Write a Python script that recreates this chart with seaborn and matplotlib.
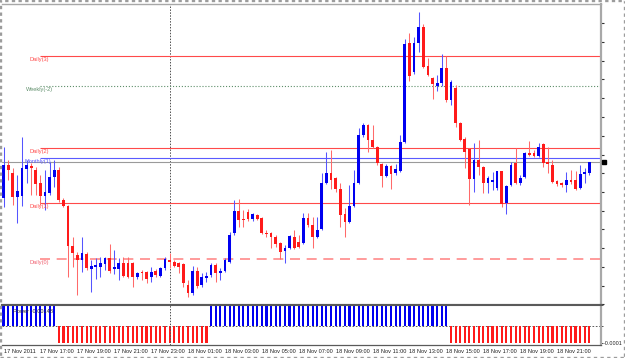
import numpy as np
import pandas as pd
import matplotlib
matplotlib.use("Agg")
import matplotlib.pyplot as plt
import seaborn as sns
from matplotlib.patches import Rectangle

# ---- data (screen rows, top = 0; converted to price below) ----
open_px = [198, 165, 173, 197, 196, 169, 166, 170, 183, 196, 193, 177, 170, 200, 206, 246,
           255, 260, 254, 269, 267, 267, 264, 258, 269, 269, 263, 263, 263, 277, 272, 272,
           277, 271, 276, 268, 260, 262, 263, 264, 285, 293, 271, 285, 278, 275, 265, 273,
           271, 262, 233, 211, 219, 212, 219, 215, 218, 233, 233, 237, 243, 251, 248, 237,
           242, 243, 218, 225, 237, 229, 183, 173, 178, 189, 214, 222, 206, 183, 135, 125,
           140, 147, 164, 176, 166, 173, 171, 142, 43, 72, 43, 27, 66, 78, 86, 83,
           68, 100, 88, 123, 139, 149, 179, 160, 167, 183, 182, 188, 171, 203, 185, 163,
           183, 177, 153, 153, 156, 144, 162, 165, 181, 183, 185, 180, 180, 188, 174, 173]
high_px = [147, 160, 168, 175, 137, 160, 163, 167, 175, 170, 162, 160, 167, 198, 205, 237,
           252, 237, 252, 260, 258, 257, 257, 244, 250, 258, 257, 257, 262, 272, 270, 271,
           267, 269, 267, 257, 253, 260, 262, 263, 280, 266, 267, 273, 272, 263, 263, 268,
           258, 232, 200, 199, 210, 209, 213, 214, 217, 230, 232, 235, 242, 245, 235, 230,
           235, 213, 213, 217, 217, 173, 152, 150, 177, 183, 208, 185, 170, 128, 123, 124,
           125, 146, 163, 164, 165, 164, 135, 39, 33, 37, 12, 24, 58, 77, 75, 54,
           56, 80, 85, 122, 137, 148, 143, 140, 166, 176, 172, 171, 171, 185, 162, 148,
           175, 152, 141, 150, 143, 143, 147, 160, 180, 182, 172, 170, 171, 165, 168, 162]
low_px = [207, 180, 205, 223, 206, 183, 195, 195, 205, 210, 195, 187, 202, 207, 277, 267,
          295, 272, 270, 292, 279, 277, 270, 273, 274, 280, 277, 278, 287, 279, 280, 283,
          282, 277, 277, 270, 268, 267, 273, 287, 297, 295, 288, 287, 282, 277, 282, 280,
          272, 263, 235, 227, 227, 221, 221, 220, 234, 237, 248, 247, 259, 263, 249, 249,
          248, 244, 227, 248, 238, 230, 184, 189, 192, 227, 237, 223, 207, 184, 137, 152,
          148, 165, 187, 177, 189, 175, 172, 143, 81, 74, 52, 68, 76, 99, 91, 86,
          102, 105, 127, 141, 168, 205, 192, 175, 193, 193, 190, 190, 207, 214, 186, 184,
          185, 178, 156, 157, 157, 167, 173, 183, 186, 187, 192, 184, 190, 189, 183, 175]
close_px = [165, 170, 197, 191, 168, 165, 168, 184, 196, 192, 177, 170, 200, 206, 246, 253,
            260, 253, 268, 266, 265, 263, 258, 271, 267, 263, 276, 277, 277, 273, 273, 279,
            272, 275, 268, 259, 262, 266, 267, 283, 293, 271, 286, 277, 276, 265, 273, 271,
            260, 235, 211, 220, 220, 219, 214, 219, 233, 234, 237, 244, 252, 248, 236, 248,
            247, 218, 225, 237, 230, 183, 173, 180, 189, 215, 222, 206, 183, 135, 125, 140,
            147, 163, 176, 166, 174, 169, 142, 44, 76, 43, 27, 67, 75, 84, 83, 68,
            100, 82, 123, 140, 152, 179, 160, 167, 183, 178, 180, 171, 204, 186, 165, 183,
            178, 153, 155, 156, 147, 163, 164, 182, 184, 185, 180, 182, 189, 174, 172, 162]

# Power indicator (x1e-5): positive = blue, negative = red
power_e5 = [12, 12, 12, 12, 12, 12, 12, 12, 12, 12, 12, 12,
            -10, -10, -10, -10, -10, -10, -10, -10, -10, -10, -10, -10, -10, -10, -10, -10, -10,
            -10, -10, -10, -10, -10, -10, -10, -10, -10, -10, -10, -10, -10, -10, -10, -10,
            12, 12, 12, 12, 12, 12, 12, 12, 12, 12, 12, 12, 12, 12, 12, 12, 12, 12, 12, 12,
            12, 12, 12, 12, 12, 12, 12, 12, 12, 12, 12, 12, 12, 12, 12, 12, 12, 12, 12, 12,
            12, 12, 12, 12, 12, 12, 12, 12, 12, 12, 12, 12,
            -10, -10, -10, -10, -10, -10, -10, -10, -10, -10, -10, -10, -10, -10, -10, -10,
            -10, -10, -10, -10, -10, -10, -10, -10, -10, -10, -10, -10, -10, -10, -10]

level_names = ["Daily(3)", "Weekly(-2)", "Daily(2)", "Monthly(1)", "Daily(1)", "Daily(0)"]
level_px = [56, 86, 148, 158, 203, 259]
level_colors = ["#FF4A4A", "#5E8E6A", "#FF4A4A", "#5A5AFF", "#FF4A4A", "#FF8A8A"]
level_styles = ["-", ":", "-", "-", "-", (0, (6, 4))]
bid_px = 162

tick_index = [0, 8, 16, 24, 32, 40, 48, 56, 64, 72, 80, 88, 96, 104, 112, 120]
tick_labels = ["17 Nov 2011", "17 Nov 17:00", "17 Nov 19:00", "17 Nov 21:00", "17 Nov 23:00",
               "18 Nov 01:00", "18 Nov 03:00", "18 Nov 05:00", "18 Nov 07:00", "18 Nov 09:00",
               "18 Nov 11:00", "18 Nov 13:00", "18 Nov 15:00", "18 Nov 17:00", "18 Nov 19:00",
               "18 Nov 21:00"]
day_break_index = 36
grid_px = [23, 42, 61, 79, 98, 117, 136, 155, 173, 192, 211, 229, 248, 267, 286, 304]

BASE = 1.3560


def to_price(v):
    return BASE - np.asarray(v, dtype=float) / 10000.0


o = to_price(open_px)
h = to_price(high_px)
l = to_price(low_px)
c = to_price(close_px)
n = len(o)
x = np.arange(n)

sns.set_style("white")
plt.rcParams["font.family"] = ["Liberation Sans", "DejaVu Sans"]
FS = 4.1

W, H = 625, 358
fig = plt.figure(figsize=(W / 100, H / 100), dpi=100)
fig.patch.set_facecolor("white")

ax = fig.add_axes([2 / W, (H - 305) / H, 599 / W, 301 / H])
ax2 = fig.add_axes([2 / W, (H - 345) / H, 599 / W, 40 / H])

xl = (-0.33, 599 / 4.613 - 0.33)

# ---- candles ----
up = c > o
body_col = np.where(up, "#0000F0", "#FF1A1A")
wick_col = np.where(up, "#5555FF", "#FF6A6A")
ax.vlines(x, l, h, colors=wick_col, lw=0.75, zorder=3)
body_h = np.maximum(np.abs(c - o), 0.00009)
ax.bar(x, body_h, bottom=np.minimum(o, c), width=0.6, color=body_col, linewidth=0, zorder=4)

# ---- levels ----
xstart = (40 - 2) / 4.613 - 0.33
for name, ypx, col, ls in zip(level_names, level_px, level_colors, level_styles):
    yv = to_price(ypx)
    lw = 1.2 if name == "Daily(0)" else 0.8
    ax.hlines(yv, xstart, xl[1], colors=col, linestyles=ls, lw=lw, zorder=2)
    lx = 4.9 if name.startswith("Weekly") else 5.6
    if name.startswith("Monthly"):
        lx = 4.6
    ax.text(lx, yv - 0.0004, name, color=col if name != "Daily(0)" else "#F06070",
            fontsize=FS, ha="left", va="center", zorder=5)
ax.axhline(to_price(bid_px), color="#9A9A9A", lw=0.8, zorder=2)
ax.plot([xl[1] + 0.75], [to_price(bid_px)], marker="s", ms=3.2, color="black",
        clip_on=False, zorder=6)

ax.axvline(day_break_index, color="#505050", lw=0.7, ls=(0, (1.5, 1.5)), zorder=1)

ax.set_xlim(*xl)
ax.set_ylim(to_price(305), to_price(4))
ax.set_xticks([])
ax.yaxis.tick_right()
ax.set_yticks(to_price(grid_px))
ax.tick_params(axis="y", direction="out", length=2.2, width=0.8, color="#303030",
               labelright=False, right=True, left=False)
ax.spines["left"].set_visible(False)
ax.spines["top"].set_color("#A8A8A8")
ax.spines["top"].set_linewidth(1.0)
ax.spines["right"].set_color("#A8A8A8")
ax.spines["right"].set_linewidth(1.6)
ax.spines["bottom"].set_color("#5A5A5A")
ax.spines["bottom"].set_linewidth(1.5)

# ---- Power indicator (seaborn) ----
power = np.array(power_e5, dtype=float) * 1e-5
df = pd.DataFrame({"i": x, "power": power,
                   "dir": np.where(power > 0, "up", "down")})
sns.barplot(data=df, x="i", y="power", hue="dir", palette={"up": "#0000F0", "down": "#FF1A1A"},
            dodge=False, width=0.45, legend=False, saturation=1, ax=ax2, native_scale=True,
            linewidth=0)
ax2.axhline(0, color="#404040", lw=0.6, ls=(0, (2, 2)), zorder=0)
ax2.axvline(day_break_index, color="#505050", lw=0.7, ls=(0, (1.5, 1.5)), zorder=5)
ax2.set_xlim(*xl)
ax2.set_ylim(-0.0001 * 19 / 17, 0.0001 * 21 / 17)
ax2.set_xlabel("")
ax2.set_ylabel("")
ax2.set_xticks(tick_index)
ax2.set_xticklabels(tick_labels, ha="left", fontsize=FS, color="#202020")
ax2.tick_params(axis="x", direction="out", length=2, width=0.6, pad=1.2, color="#303030")
ax2.yaxis.tick_right()
ax2.set_yticks([0.0001 * 21 / 17 - 0.000001, 0, -0.0001])
ax2.set_yticklabels(["", "", "-0.0001"], fontsize=3.9, color="#202020")
ax2.tick_params(axis="y", direction="out", length=1.5, width=0.6, pad=0.6, color="#303030",
                labelright=True, right=True, left=False, labelleft=False)
ax2.spines["left"].set_visible(False)
ax2.spines["top"].set_color("#5A5A5A")
ax2.spines["top"].set_linewidth(1.5)
ax2.spines["bottom"].set_color("#5A5A5A")
ax2.spines["bottom"].set_linewidth(0.9)
ax2.spines["right"].set_color("#A8A8A8")
ax2.spines["right"].set_linewidth(1.6)
ax2.text(2.0, 0.0001 * 0.85, "Power -0.00148", fontsize=FS, color="#303030",
         ha="left", va="center", zorder=6)

# outer frame
fig.add_artist(Rectangle((0, 0), 1, 1, transform=fig.transFigure, fill=False,
                         ec="#9C9C9C", lw=2.4, ls=(0, (1, 1))))

fig.savefig("out.png", dpi=100, facecolor="white")
